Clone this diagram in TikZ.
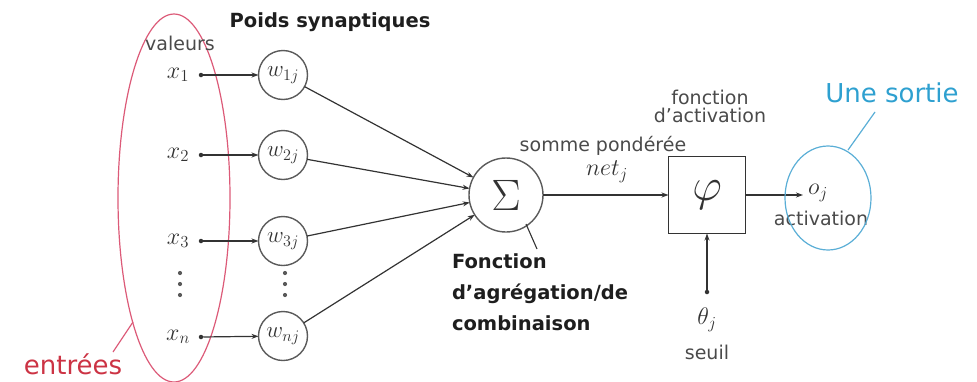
\RequirePackage{fix-cm}
\documentclass[tikz,border=0pt]{standalone}
\usepackage[no-math]{fontspec}
\setmainfont{DejaVu Sans}
\usetikzlibrary{arrows.meta}
\definecolor{labelgray}{HTML}{4A4A4A}
\definecolor{boldgray}{HTML}{1E1E1E}
\definecolor{linegray}{HTML}{333333}
\definecolor{circgray}{HTML}{5A5A5A}
\definecolor{redline}{HTML}{DC5A78}
\definecolor{redtext}{HTML}{CC3344}
\definecolor{bluetext}{HTML}{2EA0D0}
\definecolor{blueline}{HTML}{5AAED6}
\begin{document}
\begin{tikzpicture}[x=1pt,y=-1pt,
  every node/.style={inner sep=0pt, outer sep=0pt},
  lbl/.style={text=labelgray, font=\fontsize{19}{19}\selectfont},
  boldlbl/.style={text=boldgray, font=\fontsize{19.5}{31}\selectfont\bfseries},
  mathlbl/.style={text=linegray, font=\fontsize{24}{26}\selectfont},
  wnode/.style={circle, draw=circgray, line width=1.4pt, minimum size=49pt, text=linegray, font=\fontsize{23}{24}\selectfont},
  dotnode/.style={circle, fill=linegray, minimum size=4.5pt},
  vdot/.style={fill=circgray},
  arr/.style={draw=linegray, line width=1.2pt, -{Stealth[length=7pt,width=5pt]}},
  ln/.style={draw=linegray, line width=1.1pt},
]
\useasboundingbox (0,0) rectangle (977,381);
% inputs ellipse
\draw[draw=redline, line width=1.2pt] (174,198) ellipse [x radius=56pt, y radius=184pt];
\node[text=redtext, font=\fontsize{26}{26}\selectfont] (ent) at (73,364) {entrées};
\coordinate (entA) at (113,352);
\coordinate (entB) at (133,322);
\draw[draw=redline, line width=1.2pt] (entA) -- (entB);

% titles
\node[lbl] (val) at (180,43) {valeurs};
\node[boldlbl] (poids) at (330,22) {Poids synaptiques};

% inputs
\node[mathlbl] (x1) at (178,75) {$x_1$};
\node[mathlbl] (x2) at (178,155) {$x_2$};
\node[mathlbl] (x3) at (178,241) {$x_3$};
\node[mathlbl] (xn) at (178,337) {$x_n$};
\foreach \yy in {273,284,295} {
  \fill[vdot] (180,\yy) circle (2.1pt);
  \fill[vdot] (285,\yy) circle (2.1pt);
}
\node[dotnode] (d1) at (201,75) {};
\node[dotnode] (d2) at (201,155) {};
\node[dotnode] (d3) at (201,241) {};
\node[dotnode] (dn) at (201,337) {};

\node[wnode] (w1) at (283,75) {$w_{1j}$};
\node[wnode] (w2) at (283,155) {$w_{2j}$};
\node[wnode] (w3) at (283,241) {$w_{3j}$};
\node[wnode] (wn) at (283,336) {$w_{nj}$};

\draw[arr] (d1) -- (w1);
\draw[arr] (d2) -- (w2);
\draw[arr] (d3) -- (w3);
\draw[arr] (dn) -- (wn);

% summation
\node[circle, draw=circgray, line width=1.4pt, minimum size=74pt, text=linegray, font=\fontsize{44}{48}\selectfont] (sig) at (506,195) {$\Sigma$};
\draw[arr] (w1) -- (sig);
\draw[arr] (w2) -- (sig);
\draw[arr] (w3) -- (sig);
\draw[arr] (wn) -- (sig);

\node[boldlbl, align=left, anchor=north west] (agg) at (452,254) {Fonction\\d'agrégation/de\\combinaison};
\coordinate (aggA) at (537,249);
\coordinate (aggB) at (526,224);
\draw[ln] (aggA) -- (aggB);

\node[lbl] (somme) at (603,146) {somme pondérée};
\node[mathlbl] (net) at (607,172) {$net_j$};

% activation box
\node[draw=linegray, line width=1.4pt, minimum size=77pt, text=linegray, font=\fontsize{46}{50}\selectfont] (phi) at (707,195) {$\varphi$};
\draw[arr] (sig) -- (phi);
\node[lbl, align=center, font=\fontsize{19}{18}\selectfont] (fact) at (710,106) {fonction\\d'activation};

% threshold
\node[dotnode] (td) at (707,292) {};
\draw[arr] (td) -- (phi);
\node[mathlbl] (theta) at (707,320) {$\theta_j$};
\node[lbl] (seuil) at (707,352) {seuil};

% output
\coordinate (oarr) at (803,195);
\draw[arr] (phi) -- (oarr);
\node[mathlbl] (oj) at (818,193) {$o_j$};
\node[lbl] (act) at (821,218) {activation};
\draw[draw=blueline, line width=1.2pt] (828,198) ellipse [x radius=43pt, y radius=52pt];
\node[text=bluetext, font=\fontsize{26}{26}\selectfont] (sortie) at (892,93) {Une sortie};
\coordinate (sA) at (848,150);
\coordinate (sB) at (875,112);
\draw[draw=blueline, line width=1.2pt] (sA) -- (sB);
\end{tikzpicture}
\end{document}
